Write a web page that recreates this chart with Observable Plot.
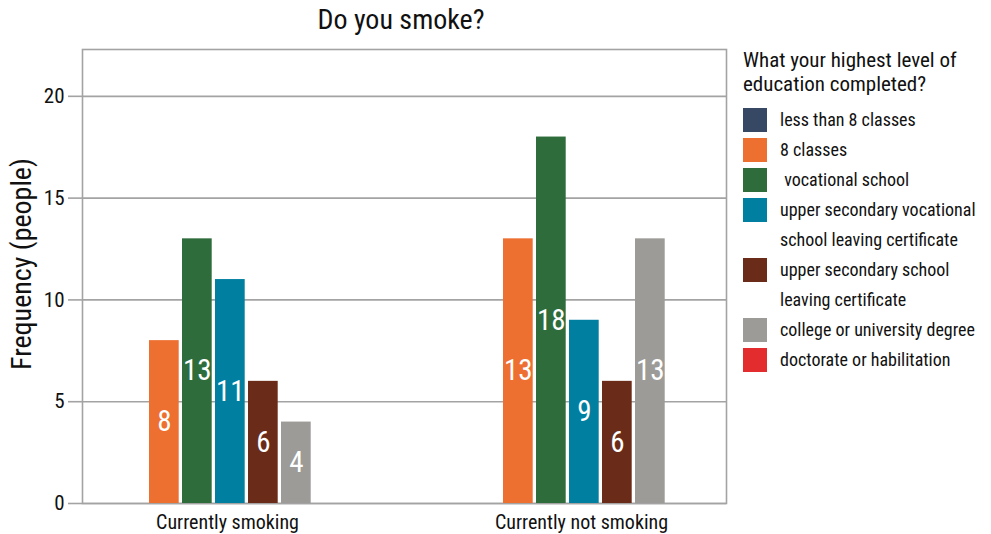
<!DOCTYPE html>
<html><head><meta charset="utf-8">
<script src="https://cdn.jsdelivr.net/npm/d3@7"></script>
<script src="https://cdn.jsdelivr.net/npm/@observablehq/plot@0.6"></script>
<style>
body{margin:0;background:#fff;}
#wrap{position:relative;width:991px;height:534px;overflow:hidden;font-family:"Roboto Condensed","Liberation Sans Narrow","DejaVu Sans Condensed",Roboto,sans-serif;color:#111;}
#wrap svg{position:absolute;left:0;top:0;}
#title{position:absolute;top:3px;left:251px;width:300px;text-align:center;font-size:28px;line-height:34px;}
#ylabel{position:absolute;left:21px;top:264px;transform:translate(-50%,-50%) rotate(-90deg);white-space:nowrap;font-size:28px;}
#legend{position:absolute;left:743px;top:48px;width:248px;}
#legend .lt{font-size:21px;line-height:24px;margin-bottom:12px;}
#legend .row{position:relative;height:30px;}
#legend .sw{position:absolute;left:0;top:0;width:24px;height:24px;}
#legend .lb{position:absolute;left:37px;top:0;font-size:18px;line-height:24px;white-space:pre;}
</style></head><body><div id="wrap"><div id="title">Do you smoke?</div><div id="ylabel">Frequency (people)</div><div id="legend"></div></div>
<script>
const groups = ["Currently smoking", "Currently not smoking"];
const series = ["less than 8 classes", "8 classes", " vocational school", "upper secondary vocational school leaving certificate", "upper secondary school leaving certificate", "college or university degree", "doctorate or habilitation"];
const legendLines = [["less than 8 classes"], ["8 classes"], [" vocational school"], ["upper secondary vocational", "school leaving certificate"], ["upper secondary school", "leaving certificate"], ["college or university degree"], ["doctorate or habilitation"]];
const smoking = [0, 8, 13, 11, 6, 4, 0];
const notSmoking = [0, 13, 18, 9, 6, 13, 0];
const colors = ["#374865", "#ed7031", "#2e6d3b", "#007fa0", "#6a2c19", "#9c9b97", "#e22c2e"];
const yTicks = [0, 5, 10, 15, 20];
const legendTitle = ["What your highest level of", "education completed?"];

const rows = [];
series.forEach((s, i) => {
  rows.push({group: groups[0], series: s, idx: i, value: smoking[i]});
  rows.push({group: groups[1], series: s, idx: i, value: notSmoking[i]});
});

const slot = 33, barW = 29.7, groupW = 231;
const font = '"Roboto Condensed","Liberation Sans Narrow","DejaVu Sans Condensed",Roboto,sans-serif';
const grid = "#a3a3a3";

const chart = Plot.plot({
  width: 991, height: 534,
  marginLeft: 82, marginRight: 265, marginTop: 49, marginBottom: 31,
  style: {fontFamily: font, fontSize: "20px", color: "#111", background: "transparent"},
  x: {domain: groups, paddingInner: 0.3482, paddingOuter: 0.0827, align: 0.568, axis: null, label: null},
  y: {domain: [0, 22.3], axis: null, label: null},
  color: {domain: series, range: colors},
  marks: [
    Plot.gridY(yTicks, {stroke: grid, strokeOpacity: 1, strokeWidth: 1.6}),
    Plot.frame({stroke: grid, strokeWidth: 1.6}),
    Plot.axisY({ticks: yTicks, tickSize: 14, tickPadding: 4, stroke: grid, strokeWidth: 1.6, fill: "#111", fontSize: 21, label: null}),
    Plot.axisX({tickSize: 0, tickPadding: 11, fontSize: 20, dx: -4.5, fill: "#111", label: null}),
    ...series.map((s, i) => Plot.barY(rows.filter(d => d.idx === i && d.value > 0), {
      x: "group", y: "value", fill: "series",
      insetLeft: i * slot, insetRight: groupW - i * slot - barW
    })),
    ...series.map((s, i) => Plot.text(rows.filter(d => d.idx === i && d.value > 0), {
      x: "group", y: d => d.value / 2, text: d => String(d.value),
      fill: "white", fontSize: 29, dx: i * slot + barW / 2 - groupW / 2
    }))
  ]
});
document.getElementById("wrap").appendChild(chart);

const lg = document.getElementById("legend");
const t = document.createElement("div");
t.className = "lt";
t.innerHTML = legendTitle.join("<br>");
lg.appendChild(t);
legendLines.forEach((lines, i) => {
  lines.forEach((line, j) => {
    const r = document.createElement("div");
    r.className = "row";
    if (j === 0) {
      const sw = document.createElement("div");
      sw.className = "sw";
      sw.style.background = colors[i];
      r.appendChild(sw);
    }
    const lb = document.createElement("div");
    lb.className = "lb";
    lb.textContent = line;
    r.appendChild(lb);
    lg.appendChild(r);
  });
});
</script></body></html>
